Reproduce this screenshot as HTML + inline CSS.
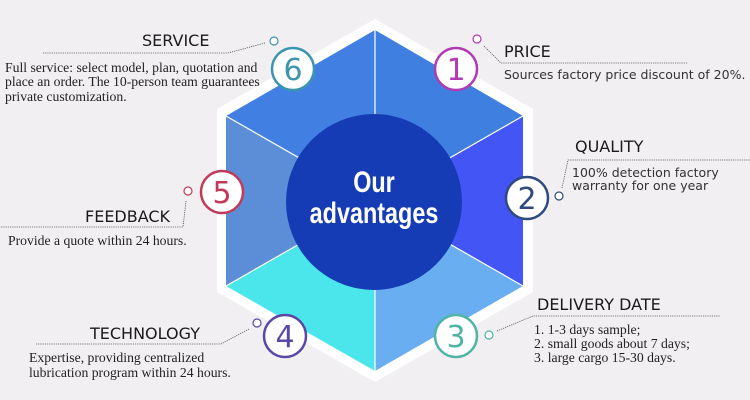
<!DOCTYPE html>
<html><head><meta charset="utf-8"><style>
html,body{margin:0;padding:0;background:#f1eff2;}
svg{display:block}
.h{font-family:"DejaVu Sans","Liberation Sans",sans-serif;font-size:16px;fill:#1a1a1a}
.s{font-family:"DejaVu Sans","Liberation Sans",sans-serif;font-size:12.5px;fill:#333}
.r{font-family:"Liberation Serif",serif;font-size:13.7px;fill:#222}
.n{font-family:"DejaVu Sans","Liberation Sans",sans-serif;font-size:30px;text-anchor:middle}
</style></head><body>
<svg width="750" height="400" viewBox="0 0 750 400" xmlns="http://www.w3.org/2000/svg">
<rect width="750" height="400" fill="#f1eff2"/>
<polygon points="375,19 533,109 533,292 375,382 217,292 217,109" fill="#fff"/>
<polygon points="375,30 523,116 375,200" fill="#3f7fe0"/>
<polygon points="523,116 523,286 375,200" fill="#4455f5"/>
<polygon points="523,286 375,371 375,200" fill="#69aef0"/>
<polygon points="375,371 226,286 375,200" fill="#4be6ec"/>
<polygon points="226,286 226,116 375,200" fill="#5b8ed6"/>
<polygon points="226,116 375,30 375,200" fill="#4180e2"/>
<g stroke="#fff" stroke-width="1.2">
<line x1="375" y1="30" x2="375" y2="371"/><line x1="226" y1="116" x2="523" y2="286"/><line x1="523" y1="116" x2="226" y2="286"/>
</g>
<ellipse cx="374" cy="202" rx="88" ry="88" fill="#163cb5"/>
<g transform="translate(374 0) scale(0.78 1)">
<text x="0" y="192" text-anchor="middle" font-family="Liberation Sans,sans-serif" font-weight="bold" font-size="30" fill="#fff">Our</text>
<text x="0" y="223" text-anchor="middle" font-family="Liberation Sans,sans-serif" font-weight="bold" font-size="30" fill="#fff">advantages</text>
</g>
<g fill="#fff" stroke-width="2.5">
<circle cx="456" cy="69" r="21" stroke="#b23ab3"/>
<circle cx="527" cy="198" r="21" stroke="#2e4a7e"/>
<circle cx="456" cy="336" r="21" stroke="#4fb3a6"/>
<circle cx="285" cy="336" r="21" stroke="#5b47a6"/>
<circle cx="222" cy="192" r="21" stroke="#c23a5a"/>
<circle cx="293" cy="69" r="21" stroke="#3d95ad"/>
</g>
<text class="n" x="456" y="80" fill="#b23ab3">1</text>
<text class="n" x="527" y="209" fill="#2e4a7e">2</text>
<text class="n" x="456" y="347" fill="#4fb3a6">3</text>
<text class="n" x="285" y="347" fill="#5b47a6">4</text>
<text class="n" x="222" y="203" fill="#c23a5a">5</text>
<text class="n" x="293" y="80" fill="#3d95ad">6</text>
<g fill="#fff" stroke-width="1.2">
<circle cx="477" cy="39" r="4" stroke="#b23ab3"/>
<circle cx="559" cy="196" r="4" stroke="#2e4a7e"/>
<circle cx="489" cy="335" r="4" stroke="#4fb3a6"/>
<circle cx="257" cy="323" r="4" stroke="#5b47a6"/>
<circle cx="188" cy="191" r="4" stroke="#c23a5a"/>
<circle cx="274" cy="41" r="4" stroke="#3d95ad"/>
</g>
<g stroke="#555" stroke-width="0.8" fill="none" stroke-dasharray="1.2 1">
<polyline points="484,46 501,63 688,63"/>
<polyline points="562,188 568,160 750,160"/>
<polyline points="497,331 533,316 720,316"/>
<polyline points="249,329 221,344 36,344"/>
<polyline points="186,201 183,227 0,227"/>
<polyline points="265,43 228,53 42,53"/>
</g>
<text class="h" x="504" y="57">PRICE</text>
<text class="s" x="504" y="79">Sources factory price discount of 20%.</text>
<text class="h" x="575" y="152">QUALITY</text>
<text class="s" x="572" y="177">100% detection factory</text>
<text class="s" x="572" y="190">warranty for one year</text>
<text class="h" x="537" y="310">DELIVERY DATE</text>
<text class="r" x="534" y="334">1. 1-3 days sample;</text>
<text class="r" x="534" y="348">2. small goods about 7 days;</text>
<text class="r" x="534" y="362">3. large cargo 15-30 days.</text>
<text class="h" x="90" y="339">TECHNOLOGY</text>
<text class="r" x="29" y="362">Expertise, providing centralized</text>
<text class="r" x="29" y="377">lubrication program within 24 hours.</text>
<text class="h" x="85" y="222">FEEDBACK</text>
<text class="r" x="8" y="245">Provide a quote within 24 hours.</text>
<text class="h" x="142" y="46">SERVICE</text>
<text class="r" x="5" y="72">Full service: select model, plan, quotation and</text>
<text class="r" x="5" y="86">place an order. The 10-person team guarantees</text>
<text class="r" x="5" y="101">private customization.</text>
</svg>
</body></html>
